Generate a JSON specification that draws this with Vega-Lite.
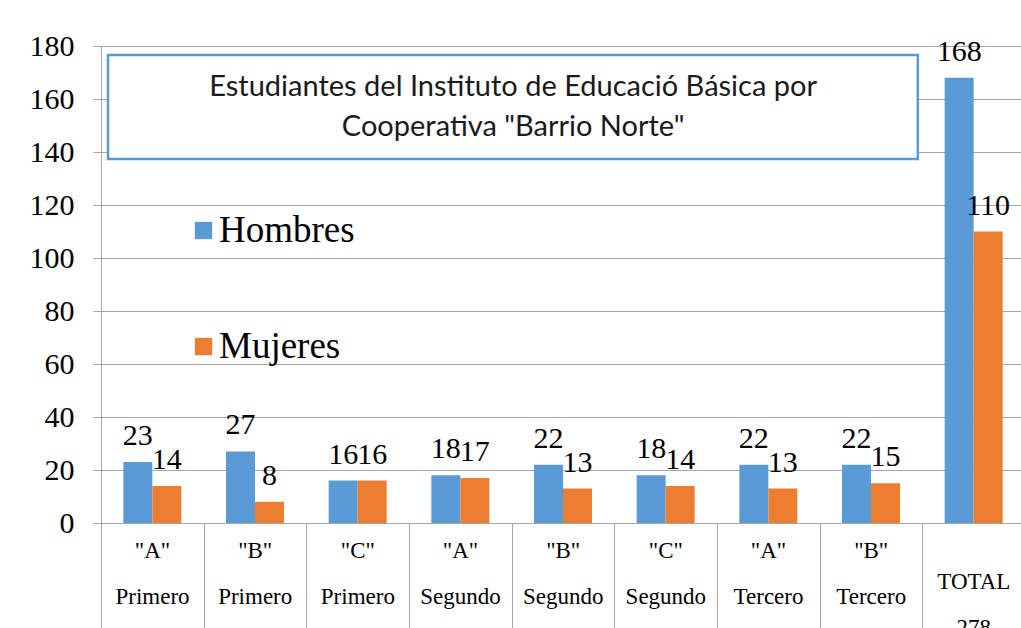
{
  "$schema": "https://vega.github.io/schema/vega-lite/v6.json",
  "width": 924,
  "height": 477,
  "autosize": {"type": "none"},
  "padding": {"left": 101, "top": 46, "right": 0, "bottom": 105},
  "background": "white",
  "config": {
    "view": {"stroke": null},
    "font": "Liberation Serif",
    "style": {"guide-label": {"font": "Liberation Serif", "fill": "black"}},
    "axis": {"labelFont": "Liberation Serif", "labelColor": "black"},
    "axisY": {
      "labelFont": "Liberation Serif", "labelFontSize": 30, "labelColor": "black",
      "labelPadding": 19, "tickSize": 8, "tickColor": "#a6a6a6", "domainColor": "#a6a6a6",
      "gridColor": "#a6a6a6", "gridWidth": 1
    }
  },
  "data": {
    "values": [
      {"grupo": "\"A\"|Primero", "serie": "Hombres", "n": 23},
      {"grupo": "\"A\"|Primero", "serie": "Mujeres", "n": 14},
      {"grupo": "\"B\"|Primero", "serie": "Hombres", "n": 27},
      {"grupo": "\"B\"|Primero", "serie": "Mujeres", "n": 8},
      {"grupo": "\"C\"|Primero", "serie": "Hombres", "n": 16},
      {"grupo": "\"C\"|Primero", "serie": "Mujeres", "n": 16},
      {"grupo": "\"A\"|Segundo", "serie": "Hombres", "n": 18},
      {"grupo": "\"A\"|Segundo", "serie": "Mujeres", "n": 17},
      {"grupo": "\"B\"|Segundo", "serie": "Hombres", "n": 22},
      {"grupo": "\"B\"|Segundo", "serie": "Mujeres", "n": 13},
      {"grupo": "\"C\"|Segundo", "serie": "Hombres", "n": 18},
      {"grupo": "\"C\"|Segundo", "serie": "Mujeres", "n": 14},
      {"grupo": "\"A\"|Tercero", "serie": "Hombres", "n": 22},
      {"grupo": "\"A\"|Tercero", "serie": "Mujeres", "n": 13},
      {"grupo": "\"B\"|Tercero", "serie": "Hombres", "n": 22},
      {"grupo": "\"B\"|Tercero", "serie": "Mujeres", "n": 15},
      {"grupo": "TOTAL|278", "serie": "Hombres", "n": 168},
      {"grupo": "TOTAL|278", "serie": "Mujeres", "n": 110}
    ]
  },
  "resolve": {"scale": {"x": "independent"}, "axis": {"x": "independent", "y": "independent"}},
  "layer": [
    {
      "mark": {"type": "bar"},
      "encoding": {
        "x": {
          "field": "grupo", "type": "nominal", "sort": null,
          "scale": {"paddingInner": 0.435, "paddingOuter": 0.2175},
          "axis": {
            "title": null, "grid": false,
            "domainColor": "#a6a6a6", "domainWidth": 1,
            "ticks": true, "tickColor": "#a6a6a6", "tickSize": 105,
            "bandPosition": 0, "tickOffset": -22.3, "labelOffset": 22,
            "labelExpr": "split(datum.value, '|')",
            "labelFont": "Liberation Serif", "labelFontSize": 23, "labelColor": "black",
            "labelLineHeight": 46,
            "labelPadding": {"condition": {"test": "datum.value == 'TOTAL|278'", "value": -40}, "value": -71},
            "labelBaseline": "alphabetic",
            "labelAngle": 0, "labelOverlap": false, "labelBound": false, "labelFlush": false
          }
        },
        "xOffset": {"field": "serie", "sort": ["Hombres", "Mujeres"]},
        "y": {
          "field": "n", "type": "quantitative",
          "scale": {"domain": [0, 180], "nice": false},
          "axis": {
            "title": null, "values": [0, 20, 40, 60, 80, 100, 120, 140, 160, 180],
            "grid": true,
            "labelFont": "Liberation Serif", "labelFontSize": 30, "labelColor": "black"
          }
        },
        "color": {
          "field": "serie", "type": "nominal",
          "scale": {"domain": ["Hombres", "Mujeres"], "range": ["#5b9bd5", "#ed7d31"]},
          "legend": {
            "orient": "none", "legendX": 84, "legendY": 166, "title": null,
            "direction": "vertical", "padding": 0,
            "symbolType": "square", "symbolSize": 300, "symbolStrokeWidth": 0,
            "labelFont": "Liberation Serif", "labelFontSize": 37, "labelColor": "black",
            "labelOffset": -3, "rowPadding": 78
          }
        }
      }
    },
    {
      "mark": {"type": "text", "dy": -17, "font": "Liberation Serif", "fontSize": 30, "baseline": "alphabetic", "color": "black"},
      "encoding": {
        "x": {"field": "grupo", "type": "nominal", "sort": null,
              "scale": {"paddingInner": 0.435, "paddingOuter": 0.2175}, "axis": null},
        "xOffset": {"field": "serie", "sort": ["Hombres", "Mujeres"]},
        "y": {"field": "n", "type": "quantitative", "axis": null},
        "text": {"field": "n"}
      }
    },
    {
      "data": {"values": [{"x0": 0.0076, "x1": 0.884, "y0": 176.6, "y1": 137.4}]},
      "mark": {"type": "rect", "fill": "white", "stroke": "#5b9bd5", "strokeWidth": 2.5},
      "encoding": {
        "x": {"field": "x0", "type": "quantitative", "scale": {"domain": [0, 1], "nice": false, "zero": false}, "axis": null},
        "x2": {"field": "x1"},
        "y": {"field": "y0", "type": "quantitative", "axis": null},
        "y2": {"field": "y1"}
      }
    },
    {
      "data": {"values": [{"x": 0.446, "y": 164.5, "t": ["Estudiantes del Instituto de Educació Básica por", "Cooperativa \"Barrio Norte\""]}]},
      "mark": {"type": "text", "font": "Lato", "fontSize": 29, "lineHeight": 40, "baseline": "middle", "align": "center", "color": "#1a1a1a"},
      "encoding": {
        "x": {"field": "x", "type": "quantitative", "scale": {"domain": [0, 1], "nice": false, "zero": false}, "axis": null},
        "y": {"field": "y", "type": "quantitative", "axis": null},
        "text": {"field": "t"}
      }
    }
  ]
}
